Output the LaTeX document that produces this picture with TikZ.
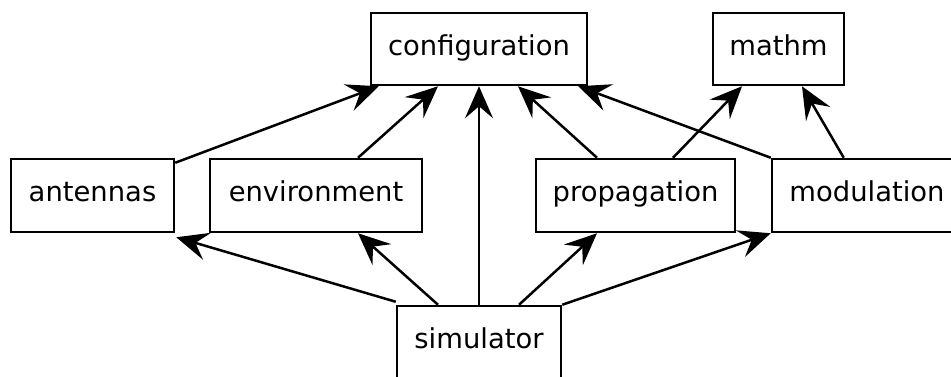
\documentclass[tikz,border=0pt]{standalone}
\usepackage{fontspec}
\setmainfont{DejaVu Sans}
\usetikzlibrary{arrows.meta}
\begin{document}
\begin{tikzpicture}[x=1pt,y=-1pt,
  module/.style={draw, line width=2.5pt, rectangle, inner sep=0pt,
    minimum height=72pt, text height=20pt, text depth=8pt,
    font=\fontsize{27.4}{33}\selectfont},
  dep/.style={line width=2.5pt, -{Stealth[length=32pt,width=28pt,inset=12pt]}}]
  \useasboundingbox (0,0) rectangle (951,376);
  % top row
  \node[module, minimum width=216pt] (configuration) at (479,49) {configuration};
  \node[module, minimum width=131pt] (mathm) at (778.5,49) {mathm};
  % middle row
  \node[module, minimum width=163pt, minimum height=73pt] (antennas) at (92.5,195.5) {antennas};
  \node[module, minimum width=212pt, minimum height=73pt] (environment) at (316,195.5) {environment};
  \node[module, minimum width=199pt, minimum height=73pt] (propagation) at (635.5,195.5) {propagation};
  \node[module, minimum width=190pt, minimum height=73pt] (modulation) at (867,195.5) {modulation};
  % bottom row
  \node[module, minimum width=164pt] (simulator) at (479,342) {simulator};

  % dependencies on configuration
  \draw[dep] ([yshift=-5pt]antennas.north east) -- ([xshift=9pt]configuration.south west);
  \draw[dep] ([xshift=42pt]environment.north) -- ([xshift=-41pt]configuration.south);
  \draw[dep] (simulator.north) -- (configuration.south);
  \draw[dep] ([xshift=-38.5pt]propagation.north) -- ([xshift=39pt]configuration.south);
  \draw[dep] (modulation.north west) -- ([xshift=-10pt]configuration.south east);
  % dependencies on mathm
  \draw[dep] ([xshift=37.5pt]propagation.north) -- ([xshift=-36.5pt]mathm.south);
  \draw[dep] ([xshift=73pt]modulation.north west) -- ([xshift=23.5pt]mathm.south);
  % simulator uses the middle row
  \draw[dep] ([yshift=3pt]simulator.north west) -- ([xshift=1pt,yshift=-4pt]antennas.south east);
  \draw[dep] ([xshift=-41pt]simulator.north) -- ([xshift=42pt]environment.south);
  \draw[dep] ([xshift=40pt]simulator.north) -- ([xshift=-38.5pt]propagation.south);
  \draw[dep] (simulator.north east) -- (modulation.south west);
\end{tikzpicture}
\end{document}
